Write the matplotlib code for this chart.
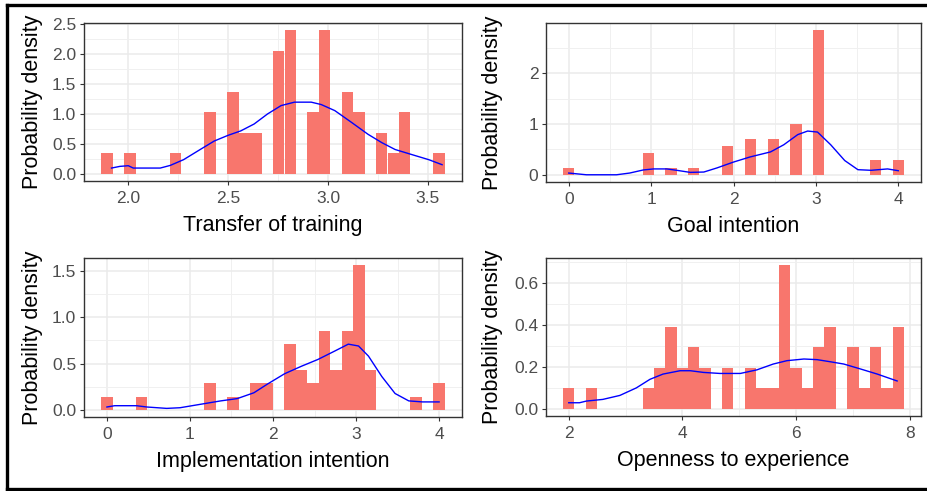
import numpy as np
import matplotlib
matplotlib.use("Agg")
import matplotlib.pyplot as plt
from matplotlib.lines import Line2D
from matplotlib.ticker import MultipleLocator

plt.rcParams['font.family'] = ['Liberation Sans', 'DejaVu Sans']

n_obs = 51

# Transfer of training
tt_width = 0.05735
tt_centers = [1.893, 2.008, 2.237, 2.409, 2.524, 2.581, 2.639, 2.753, 2.811,
              2.925, 2.983, 3.097, 3.155, 3.269, 3.327, 3.384, 3.556]
tt_counts = [1, 1, 1, 3, 4, 2, 2, 6, 7, 3, 7, 4, 3, 2, 1, 3, 1]
tt_curve_x = [1.916, 1.958, 2.0, 2.025, 2.16, 2.21, 2.277, 2.36, 2.43, 2.5, 2.563,
              2.63, 2.697, 2.765, 2.832, 2.916, 2.966, 3.034, 3.118, 3.2, 3.27,
              3.336, 3.42, 3.504, 3.571]
tt_curve_y = [0.096, 0.124, 0.135, 0.096, 0.096, 0.14, 0.236, 0.405, 0.546, 0.642,
              0.715, 0.83, 0.997, 1.137, 1.194, 1.194, 1.154, 1.053, 0.856, 0.659,
              0.518, 0.405, 0.32, 0.236, 0.152]

# Goal intention
gi_width = 4 / 29
gi_centers = [0.0, 0.966, 1.241, 1.517, 1.931, 2.207, 2.483, 2.759, 3.034, 3.724, 4.0]
gi_counts = [1, 3, 1, 1, 4, 5, 5, 7, 20, 2, 2]
gi_curve_x = [0.0, 0.215, 0.58, 0.74, 0.906, 1.03, 1.19, 1.31, 1.475, 1.64, 1.8, 2.0,
              2.2, 2.45, 2.61, 2.78, 2.9, 3.02, 3.18, 3.35, 3.51, 3.67, 3.87, 4.0]
gi_curve_y = [0.034, 0.0, 0.0, 0.034, 0.095, 0.115, 0.115, 0.088, 0.047, 0.054, 0.135,
              0.25, 0.35, 0.45, 0.59, 0.79, 0.86, 0.84, 0.59, 0.28, 0.10, 0.088,
              0.115, 0.08]

# Implementation intention
ii_width = 4 / 29
ii_centers = [0.0, 0.414, 1.241, 1.517, 1.793, 1.931, 2.207, 2.345, 2.483, 2.621,
              2.759, 2.897, 3.034, 3.172, 3.724, 4.0]
ii_counts = [1, 1, 2, 1, 2, 2, 5, 3, 2, 6, 3, 6, 11, 3, 1, 2]
ii_curve_x = [0.0, 0.093, 0.356, 0.48, 0.72, 0.88, 1.125, 1.37, 1.57, 1.77, 1.935,
              2.14, 2.34, 2.54, 2.745, 2.907, 3.03, 3.15, 3.31, 3.47, 3.635, 3.8, 4.0]
ii_curve_y = [0.03, 0.044, 0.044, 0.03, 0.015, 0.022, 0.059, 0.096, 0.121, 0.184,
              0.279, 0.39, 0.47, 0.544, 0.636, 0.71, 0.69, 0.58, 0.36, 0.176, 0.096,
              0.085, 0.085]

# Openness to experience
oe_width = 0.2
oe_centers = [2.0, 2.4, 3.4, 3.6, 3.8, 4.0, 4.2, 4.4, 4.8, 5.2, 5.4, 5.6, 5.8, 6.0,
              6.2, 6.4, 6.6, 7.0, 7.2, 7.4, 7.6, 7.8]
oe_counts = [1, 1, 1, 2, 4, 2, 3, 2, 2, 2, 1, 1, 7, 2, 1, 3, 4, 3, 1, 3, 1, 4]
oe_curve_x = [2.0, 2.19, 2.31, 2.6, 2.9, 3.19, 3.43, 3.66, 3.96, 4.14, 4.37, 4.66,
              5.02, 5.31, 5.6, 5.84, 6.14, 6.37, 6.6, 6.84, 7.14, 7.43, 7.78]
oe_curve_y = [0.029, 0.029, 0.037, 0.045, 0.064, 0.10, 0.141, 0.166, 0.182, 0.182,
              0.174, 0.169, 0.169, 0.186, 0.214, 0.23, 0.238, 0.235, 0.225, 0.214,
              0.19, 0.166, 0.133]

panels = [
    dict(title="Transfer of training", w=tt_width, c=tt_centers, k=tt_counts,
         cx=tt_curve_x, cy=tt_curve_y, xmaj=0.5, ymaj=0.5, xfmt="%.1f", yfmt="%.1f",
         rect=[84, 23, 462, 181]),
    dict(title="Goal intention", w=gi_width, c=gi_centers, k=gi_counts,
         cx=gi_curve_x, cy=gi_curve_y, xmaj=1, ymaj=1, xfmt="%d", yfmt="%d",
         rect=[546, 23, 921, 182]),
    dict(title="Implementation intention", w=ii_width, c=ii_centers, k=ii_counts,
         cx=ii_curve_x, cy=ii_curve_y, xmaj=1, ymaj=0.5, xfmt="%d", yfmt="%.1f",
         rect=[84, 258, 462, 417]),
    dict(title="Openness to experience", w=oe_width, c=oe_centers, k=oe_counts,
         cx=oe_curve_x, cy=oe_curve_y, xmaj=2, ymaj=0.2, xfmt="%d", yfmt="%.1f",
         rect=[546, 258, 921, 416]),
]

W, H = 928, 491
fig = plt.figure(figsize=(W / 100, H / 100), dpi=100)

for p in panels:
    l, t, r, b = p["rect"]
    ax = fig.add_axes([l / W, 1 - b / H, (r - l) / W, (b - t) / H])
    dens = np.array(p["k"]) / (n_obs * p["w"])
    ax.bar(p["c"], dens, width=p["w"], color="#F8766D", edgecolor="none", zorder=2)
    ax.plot(p["cx"], p["cy"], color="#0000FF", lw=1.0, zorder=3)

    # ggplot-like 5% expansion around bars
    x0 = min(p["c"]) - p["w"] / 2
    x1 = max(p["c"]) + p["w"] / 2
    ymax = dens.max()
    ax.set_xlim(x0 - 0.05 * (x1 - x0), x1 + 0.05 * (x1 - x0))
    ax.set_ylim(-0.05 * ymax, ymax * 1.05)

    ax.xaxis.set_major_locator(MultipleLocator(p["xmaj"]))
    ax.xaxis.set_minor_locator(MultipleLocator(p["xmaj"] / 2))
    ax.yaxis.set_major_locator(MultipleLocator(p["ymaj"]))
    ax.yaxis.set_minor_locator(MultipleLocator(p["ymaj"] / 2))
    ax.xaxis.set_major_formatter(plt.FormatStrFormatter(p["xfmt"]))
    ax.yaxis.set_major_formatter(plt.FormatStrFormatter(p["yfmt"]))

    ax.grid(which="major", color="#EBEBEB", lw=1.1, zorder=0)
    ax.grid(which="minor", color="#F0F0F0", lw=0.7, zorder=0)
    ax.set_axisbelow(True)
    ax.tick_params(which="major", length=3, width=0.8, color="#333333",
                   labelsize=12.5, labelcolor="#4D4D4D")
    ax.tick_params(axis="x", pad=4)
    ax.tick_params(axis="y", pad=2.5)
    ax.tick_params(which="minor", length=0)
    for s in ax.spines.values():
        s.set_color("#333333")
        s.set_linewidth(1.0)

    ax.set_xlabel(p["title"], fontsize=15.5, color="black")
    ax.xaxis.set_label_coords(0.5, -0.28)
    ax.xaxis.label.set_va("center")
    ax.set_ylabel("Probability density", fontsize=15.5, color="black")
    ax.yaxis.set_label_coords(((33 if l < 300 else 493) - l) / (r - l), 0.5)
    ax.yaxis.label.set_va("center")

# outer frame
lw = 2.4
fig.add_artist(Line2D([7 / W, 7 / W], [1 - 5 / H, 1 - 489 / H], color="black", lw=lw))
fig.add_artist(Line2D([7 / W, 1.0], [1 - 5 / H, 1 - 5 / H], color="black", lw=lw))
fig.add_artist(Line2D([7 / W, 1.0], [1 - 489 / H, 1 - 489 / H], color="black", lw=lw))

fig.savefig("out.png", dpi=100)
